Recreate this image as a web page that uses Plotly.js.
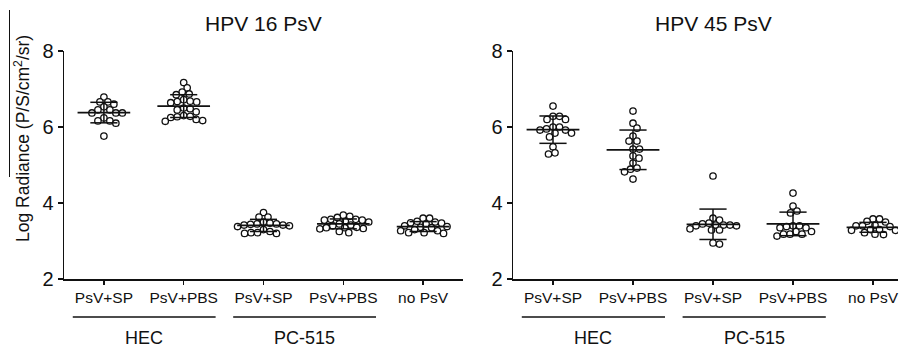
<!DOCTYPE html>
<html><head><meta charset="utf-8">
<script src="https://cdn.plot.ly/plotly-3.0.1.min.js"></script>
<style>html,body{margin:0;padding:0;background:#fff;}#chart{width:901px;height:350px;}</style>
</head><body><div id="chart"></div>
<script>
// ---- data ----
const categories = ['PsV+SP', 'PsV+PBS', 'PsV+SP', 'PsV+PBS', 'no PsV'];
const groupLabels = ['HEC', 'PC-515'];
const panelTitles = ['HPV 16 PsV', 'HPV 45 PsV'];
const yTicks = [2, 4, 6, 8];

const hpv16_HEC_SP = [6.79, 6.66, 6.66, 6.60, 6.45, 6.53, 6.45, 6.37, 6.37, 6.37, 6.24, 6.16, 6.10, 6.16, 5.76];
const hpv16_HEC_PBS = [7.17, 7.03, 6.92, 6.87, 6.85, 6.72, 6.67, 6.64, 6.66, 6.68, 6.50, 6.45, 6.48, 6.40, 6.30, 6.27, 6.25, 6.28, 6.17, 6.15, 6.20];
const hpv16_PC_SP = [3.75, 3.63, 3.63, 3.50, 3.45, 3.42, 3.40, 3.47, 3.38, 3.44, 3.45, 3.42, 3.30, 3.22, 3.20, 3.20, 3.22, 3.25];
const hpv16_PC_PBS = [3.68, 3.65, 3.62, 3.57, 3.55, 3.52, 3.55, 3.57, 3.50, 3.45, 3.42, 3.40, 3.35, 3.33, 3.32, 3.36, 3.35, 3.25, 3.22];
const hpv16_noPsV = [3.60, 3.60, 3.52, 3.48, 3.45, 3.47, 3.50, 3.38, 3.35, 3.40, 3.36, 3.30, 3.27, 3.22, 3.20, 3.22, 3.27];
const hpv16_mean = [6.38, 6.55, 3.41, 3.45, 3.38];
const hpv16_sd = [0.27, 0.30, 0.16, 0.13, 0.13];

const hpv45_HEC_SP = [6.55, 6.28, 6.28, 6.20, 6.20, 6.00, 6.00, 5.95, 5.92, 5.92, 5.84, 5.84, 5.74, 5.48, 5.29, 5.32];
const hpv45_HEC_PBS = [6.42, 6.10, 5.97, 5.76, 5.63, 5.63, 5.42, 5.42, 5.24, 5.18, 5.05, 4.89, 4.82, 4.92, 4.63];
const hpv45_PC_SP = [4.71, 3.60, 3.55, 3.47, 3.42, 3.40, 3.42, 3.45, 3.40, 3.42, 3.29, 3.29, 3.32, 2.92, 2.95];
const hpv45_PC_PBS = [4.26, 3.92, 3.79, 3.74, 3.40, 3.35, 3.35, 3.38, 3.40, 3.25, 3.18, 3.13, 3.18, 3.18, 3.25];
const hpv45_noPsV = [3.58, 3.58, 3.52, 3.50, 3.42, 3.40, 3.40, 3.38, 3.30, 3.28, 3.30, 3.28, 3.22, 3.18, 3.17];
const hpv45_mean = [5.93, 5.40, 3.44, 3.45, 3.36];
const hpv45_sd = [0.36, 0.52, 0.40, 0.31, 0.13];

// ---- layout constants ----
const ML = 64, MR = 3, MT = 51, MB = 71, W = 901, H = 350;
const plotW = W - ML - MR, plotH = H - MT - MB;
const dom1 = [0, 399 / plotW], dom2 = [449 / plotW, 1];
const xr1 = [-0.5, 4.5], xr2 = [-0.5, -0.5 + 385 / 80];
const pxPerX = 80, pxPerY = plotH / 6;
const FONT = 'Liberation Sans, Arial, Helvetica, sans-serif';
const INK = '#111';

function swarm(vals, center) {
  const d = 6.3;
  const order = vals.map((v, i) => i).sort((a, b) => vals[b] - vals[a]);
  const placed = [];
  const xs = new Array(vals.length);
  order.forEach(i => {
    const v = vals[i];
    let off = 0;
    for (let k = 0; k < 400; k++) {
      const cand = (k % 2 === 1 ? 1 : -1) * Math.ceil(k / 2) * 0.5;
      const ok = placed.every(p => {
        const dx = cand - p.off, dy = (v - p.v) * pxPerY;
        return dx * dx + dy * dy >= d * d;
      });
      if (ok) { off = cand; break; }
    }
    placed.push({ off, v });
    xs[i] = center + off / pxPerX;
  });
  return xs;
}

const traces = [];
function panel(groups, means, sds, xa, ya) {
  groups.forEach((vals, g) => {
    traces.push({
      type: 'scatter', mode: 'markers', x: swarm(vals, g), y: vals,
      xaxis: xa, yaxis: ya, hoverinfo: 'y', showlegend: false,
      marker: { symbol: 'circle', size: 6.4, color: 'rgba(255,255,255,1)', line: { color: INK, width: 1.3 } }
    });
  });
  const mx = [], my = [], sx = [], sy = [];
  means.forEach((m, g) => {
    mx.push(g - 0.33, g + 0.33, null); my.push(m, m, null);
    const hi = m + sds[g], lo = m - sds[g];
    sx.push(g, g, null, g - 0.17, g + 0.17, null, g - 0.17, g + 0.17, null);
    sy.push(lo, hi, null, hi, hi, null, lo, lo, null);
  });
  traces.push({ type: 'scatter', mode: 'lines', x: sx, y: sy, xaxis: xa, yaxis: ya, showlegend: false, hoverinfo: 'skip', line: { color: INK, width: 1.5 } });
  traces.push({ type: 'scatter', mode: 'lines', x: mx, y: my, xaxis: xa, yaxis: ya, showlegend: false, hoverinfo: 'skip', line: { color: INK, width: 1.8 } });
}
panel([hpv16_HEC_SP, hpv16_HEC_PBS, hpv16_PC_SP, hpv16_PC_PBS, hpv16_noPsV], hpv16_mean, hpv16_sd, 'x', 'y');
panel([hpv45_HEC_SP, hpv45_HEC_PBS, hpv45_PC_SP, hpv45_PC_PBS, hpv45_noPsV], hpv45_mean, hpv45_sd, 'x2', 'y2');

const xBase = {
  tickmode: 'array', tickvals: categories.map((c, i) => i), ticktext: categories,
  ticks: 'outside', ticklen: 4, tickwidth: 1.3, tickcolor: INK,
  showline: true, linecolor: INK, linewidth: 1.5, showgrid: false, zeroline: false,
  tickfont: { family: FONT, size: 15.5, color: INK }, fixedrange: true
};
const yBase = {
  range: [2, 8], tickmode: 'array', tickvals: yTicks, ticks: 'outside', ticklen: 5, tickwidth: 1.3, tickcolor: INK,
  showline: true, linecolor: INK, linewidth: 1.5, showgrid: false, zeroline: false,
  tickfont: { family: FONT, size: 20, color: INK }, domain: [0, 1], fixedrange: true
};

const py = p => (H - MB - p) / plotH; // pixel y -> paper y
const px = p => (p - ML) / plotW;     // pixel x -> paper x

const shapes = [], annotations = [];
['x', 'x2'].forEach((xa, k) => {
  [[-0.39, 1.40], [1.62, 3.41]].forEach(([a, b], j) => {
    shapes.push({ type: 'line', xref: xa, yref: 'paper', x0: a, x1: b, y0: py(317), y1: py(317), line: { color: INK, width: 1.5 } });
    annotations.push({ xref: xa, yref: 'paper', x: (a + b) / 2, y: py(338), text: groupLabels[j], showarrow: false, yanchor: 'middle', font: { family: FONT, size: 18, color: INK } });
  });
  annotations.push({ xref: xa, yref: 'paper', x: 2, y: py(23), text: panelTitles[k], showarrow: false, yanchor: 'middle', font: { family: FONT, size: 21, color: INK } });
});
annotations.push({ xref: 'paper', yref: 'paper', x: px(22), y: py(139), textangle: -90, text: 'Log Radiance (P/S/cm<sup>2</sup>/sr)', showarrow: false, xanchor: 'center', yanchor: 'middle', font: { family: FONT, size: 17.5, color: INK } });
shapes.push({ type: 'line', xref: 'paper', yref: 'paper', x0: px(9.5), x1: px(9.5), y0: py(10), y1: py(177), line: { color: INK, width: 1 } });

const layout = {
  width: W, height: H, margin: { l: ML, r: MR, t: MT, b: MB },
  paper_bgcolor: '#fff', plot_bgcolor: '#fff', showlegend: false,
  xaxis: Object.assign({}, xBase, { domain: dom1, range: xr1, anchor: 'y' }),
  xaxis2: Object.assign({}, xBase, { domain: dom2, range: xr2, anchor: 'y2' }),
  yaxis: Object.assign({}, yBase, { anchor: 'x' }),
  yaxis2: Object.assign({}, yBase, { anchor: 'x2' }),
  shapes, annotations, font: { family: FONT, color: INK }
};
Plotly.newPlot('chart', traces, layout, { displayModeBar: false, staticPlot: true });
</script></body></html>
